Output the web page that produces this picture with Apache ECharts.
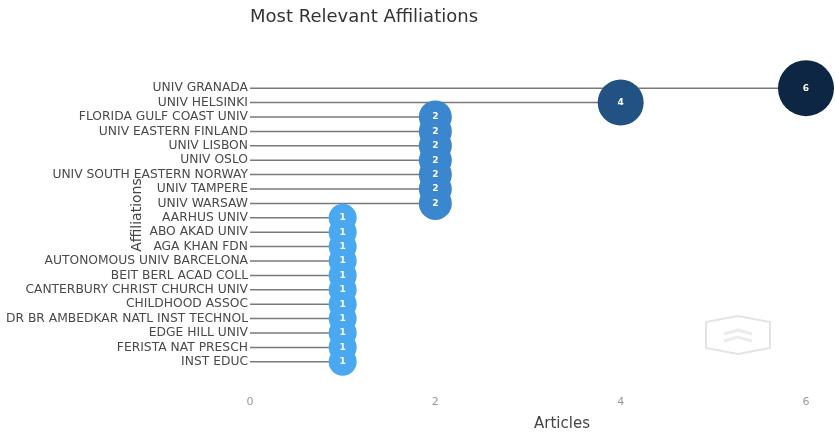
<!DOCTYPE html>
<html>
<head>
<meta charset="utf-8">
<script src="https://cdn.jsdelivr.net/npm/echarts@6/dist/echarts.min.js"></script>
<style>
    html, body {margin: 0; padding: 0; background: #fff;}
    #main {width: 835px; height: 432px;}
</style>
</head>
<body>
<div id="main"></div>
<script>
// top to bottom, as drawn
const affiliations = [
    'UNIV GRANADA', 'UNIV HELSINKI', 'FLORIDA GULF COAST UNIV', 'UNIV EASTERN FINLAND',
    'UNIV LISBON', 'UNIV OSLO', 'UNIV SOUTH EASTERN NORWAY', 'UNIV TAMPERE', 'UNIV WARSAW',
    'AARHUS UNIV', 'ABO AKAD UNIV', 'AGA KHAN FDN', 'AUTONOMOUS UNIV BARCELONA',
    'BEIT BERL ACAD COLL', 'CANTERBURY CHRIST CHURCH UNIV', 'CHILDHOOD ASSOC',
    'DR BR AMBEDKAR NATL INST TECHNOL', 'EDGE HILL UNIV', 'FERISTA NAT PRESCH', 'INST EDUC'
];
const articles = [6, 4, 2, 2, 2, 2, 2, 2, 2, 1, 1, 1, 1, 1, 1, 1, 1, 1, 1, 1];
const xTicks = [0, 2, 4, 6];

const bubbleColor = {6: '#0d2643', 4: '#215283', 2: '#3a86cf', 1: '#4aa8f0'};
const bubbleSize = {6: 56, 4: 46, 2: 33, 1: 28};

const chart = echarts.init(document.getElementById('main'));

const option = {
    backgroundColor: '#fff',
    animation: false,
    title: {
        text: 'Most Relevant Affiliations',
        left: 359,
        textAlign: 'center',
        top: 3,
        textStyle: {fontFamily: 'DejaVu Sans', fontSize: 18, fontWeight: 'normal', color: '#333'}
    },
    grid: {left: 250, right: 29, top: 81, bottom: 63, outerBoundsMode: 'none'},
    xAxis: {
        type: 'value',
        min: 0,
        max: 6,
        interval: 2,
        name: 'Articles',
        nameLocation: 'middle',
        nameGap: 48,
        nameTextStyle: {fontFamily: 'DejaVu Sans', fontSize: 15, color: '#444', padding: [0, 0, 0, 68]},
        axisLine: {show: false},
        axisTick: {show: false},
        splitLine: {show: false},
        axisLabel: {
            margin: 28,
            fontFamily: 'DejaVu Sans', fontSize: 11, color: '#999',
            formatter: v => xTicks.includes(v) ? String(v) : ''
        }
    },
    yAxis: {
        type: 'category',
        inverse: true,
        data: affiliations,
        axisLine: {show: false},
        axisTick: {show: false},
        axisLabel: {interval: 0, margin: 2, fontFamily: 'DejaVu Sans', fontSize: 12.3, color: '#4a4a4a'}
    },
    series: [
        {
            type: 'bar',
            data: articles,
            barWidth: 1.5,
            itemStyle: {color: '#7a7a7a'},
            silent: true
        },
        {
            type: 'scatter',
            data: articles,
            symbolSize: v => bubbleSize[v],
            itemStyle: {
                opacity: 1,
                color: p => bubbleColor[p.value]
            },
            label: {
                show: true,
                position: 'inside',
                color: '#fff',
                fontFamily: 'DejaVu Sans',
                fontSize: 9,
                fontWeight: 'bold',
                formatter: p => p.value
            },
            z: 3
        }
    ],
    graphic: [
        {
            type: 'text',
            x: 137,
            y: 215,
            rotation: Math.PI / 2,
            style: {
                text: 'Affiliations',
                fontFamily: 'DejaVu Sans', fontSize: 14, fill: '#444',
                align: 'center', verticalAlign: 'middle'
            },
            silent: true
        },
        {
            type: 'polygon',
            shape: {points: [[706, 322], [738, 316], [770, 322], [770, 348], [738, 354], [706, 348]]},
            style: {fill: 'none', stroke: '#e4e4e4', lineWidth: 2},
            silent: true
        },
        {
            type: 'polyline',
            shape: {points: [[724, 334], [738, 330], [752, 334]]},
            style: {stroke: '#ececec', lineWidth: 3, fill: 'none'},
            silent: true
        },
        {
            type: 'polyline',
            shape: {points: [[724, 341], [738, 337], [752, 341]]},
            style: {stroke: '#ececec', lineWidth: 3, fill: 'none'},
            silent: true
        }
    ]
};

chart.setOption(option);
</script>
</body>
</html>
